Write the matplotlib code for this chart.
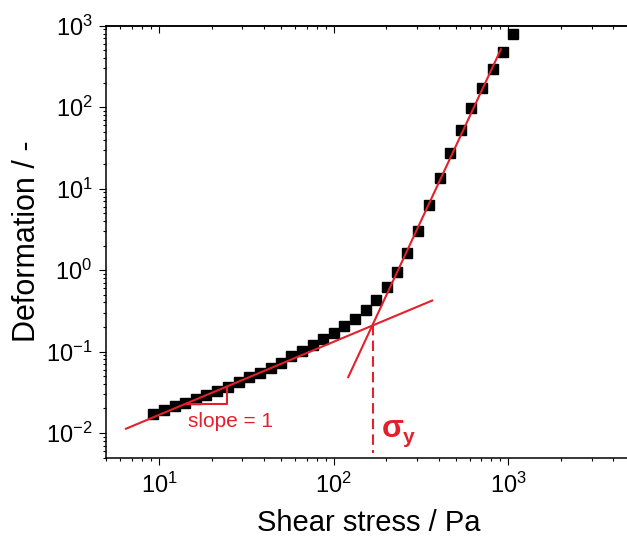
import matplotlib
matplotlib.use('Agg')
import matplotlib.pyplot as plt

# measured points: shear stress (Pa) vs deformation (-)
stress = [9.28, 10.7, 12.3, 14.15, 16.35, 18.58, 21.5, 24.8, 28.7, 32.7,
          37.8, 43.6, 49.7, 57.2, 65.9, 75.8, 86.9, 100.4, 114.6, 132.5,
          152.5, 174, 201, 232, 263.6, 304.7, 352.2, 405.6, 463, 535,
          608, 703, 813, 927, 1067]
deformation = [0.0172, 0.0189, 0.0214, 0.0233, 0.0263, 0.0294, 0.0332, 0.0372, 0.0417, 0.048,
               0.0552, 0.063, 0.0733, 0.0869, 0.101, 0.120, 0.143, 0.171, 0.208, 0.254,
               0.325, 0.431, 0.628, 0.959, 1.61, 3.05, 6.37, 13.6, 27.4, 52.5,
               98.6, 172, 297, 475, 798]

# fitted lines (end points)
fit_low_x = [6.47, 366.6]
fit_low_y = [0.01127, 0.4226]
fit_high_x = [121.2, 907]
fit_high_y = [0.0485, 513]

# yield stress and slope triangle
sigma_y = 167.2
sigma_y_def = 0.211
triangle_x = [14.5, 24.5, 24.5]
triangle_y = [0.02264, 0.02264, 0.0372]

red = '#e3202b'

plt.rcParams['font.family'] = ['Liberation Sans', 'DejaVu Sans']
plt.rcParams['axes.unicode_minus'] = False

fig = plt.figure(figsize=(6.27, 5.42), dpi=100)
ax = fig.add_axes([0.1697, 0.1559, 0.8357, 0.7967])

ax.plot(stress, deformation, 's', color='black', markersize=7.5, zorder=3)
ax.plot(fit_low_x, fit_low_y, color=red, linewidth=1.5, zorder=4)
ax.plot(fit_high_x, fit_high_y, color=red, linewidth=1.5, zorder=4)
ax.plot(triangle_x, triangle_y, color=red, linewidth=1.5, zorder=4)
ax.plot([sigma_y, sigma_y], [sigma_y_def, 0.0057], color=red, linewidth=1.5,
        dashes=(5, 2.5), zorder=4)

ax.text(14.65, 0.0119, 'slope = 1', color=red, fontsize=15, ha='left', va='baseline')
ax.text(188, 0.00891, '\u03c3', color=red, fontsize=23, fontweight='bold',
        ha='left', va='baseline')
ax.text(250, 0.00759, 'y', color=red, fontsize=15, fontweight='bold',
        ha='left', va='baseline')

ax.set_xscale('log')
ax.set_yscale('log')
ax.set_xlim(5, 5000)
ax.set_ylim(0.005, 1000)

for s in ax.spines.values():
    s.set_linewidth(1.1)
ax.tick_params(which='both', direction='out', width=0.8, labelsize=17,
               top=False, right=False)
ax.tick_params(which='major', length=5)
ax.tick_params(which='minor', length=2.5)
ax.tick_params(axis='x', pad=6)
ax.tick_params(axis='y', pad=5)

top = ax.secondary_xaxis('top')
top.tick_params(which='both', direction='in', width=0.8, labeltop=False)
top.tick_params(which='major', length=5)
top.tick_params(which='minor', length=2.5)
top.spines['top'].set_linewidth(1.1)

right = ax.secondary_yaxis('right')
right.tick_params(which='major', direction='in', width=0.8, length=2.5, labelright=False)
right.tick_params(which='minor', length=0)

ax.set_xlabel('Shear stress / Pa', fontsize=21, labelpad=8)
ax.set_ylabel('Deformation / -', fontsize=22, labelpad=3)

fig.savefig('out.png', dpi=100)
